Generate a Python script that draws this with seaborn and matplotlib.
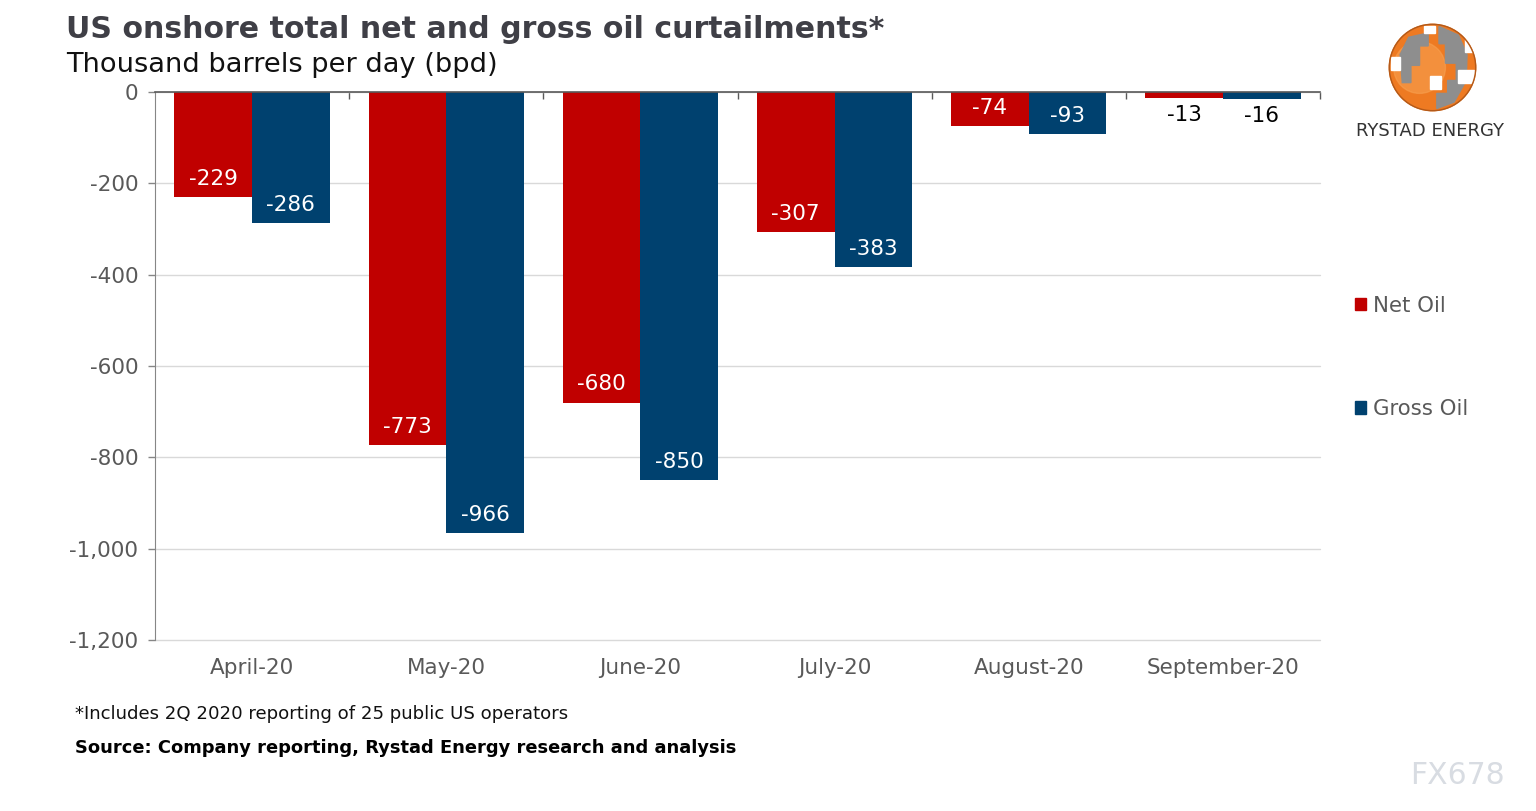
import matplotlib
matplotlib.use("Agg")
import matplotlib.pyplot as plt
import matplotlib.patches as mpatches
import matplotlib.ticker as mticker
import seaborn as sns
import pandas as pd
import numpy as np

# chart data
months = ["April-20", "May-20", "June-20", "July-20", "August-20", "September-20"]
net_oil = [-229, -773, -680, -307, -74, -13]
gross_oil = [-286, -966, -850, -383, -93, -16]
series_names = ["Net Oil", "Gross Oil"]
series_colors = ["#C00000", "#00416F"]

df = pd.DataFrame({
    "month": months * 2,
    "series": [series_names[0]] * len(months) + [series_names[1]] * len(months),
    "value": net_oil + gross_oil,
})

sns.set_style("white")
plt.rcParams["font.family"] = ["DejaVu Sans"]

fig = plt.figure(figsize=(15.36, 8.11), dpi=100)
ax = fig.add_axes([155 / 1536, 1 - 640 / 811, (1320 - 155) / 1536, (640 - 92) / 811])

sns.barplot(data=df, x="month", y="value", hue="series", order=months,
            hue_order=series_names, palette=series_colors, width=0.8,
            saturation=1, errorbar=None, ax=ax, legend=False, linewidth=0)

ax.set_ylim(-1200, 0)
ax.set_xlim(-0.5, len(months) - 0.5)
ax.set_yticks(np.arange(-1200, 1, 200))
ax.yaxis.set_major_formatter(mticker.FuncFormatter(lambda v, p: f"{v:,.0f}"))
ax.grid(axis="y", color="#D9D9D9", linewidth=1)
for gl in ax.get_ygridlines():
    gl.set_clip_on(False)
ax.set_axisbelow(True)
ax.set_xlabel("")
ax.set_ylabel("")

for side in ["right", "bottom"]:
    ax.spines[side].set_visible(False)
ax.spines["left"].set_color("#868686")
ax.spines["top"].set_color("#595959")
ax.spines["top"].set_linewidth(1.2)

ax.tick_params(axis="y", left=True, length=5, width=1, color="#868686",
               labelsize=15.5, labelcolor="#595959", pad=7)
ax.set_xticks(range(len(months)))
ax.set_xticklabels(months)
ax.tick_params(axis="x", which="major", bottom=False, top=False, length=0,
               labelsize=15.5, labelcolor="#595959", pad=13)
ax.set_xticks(np.arange(0.5, len(months)), minor=True)
ax.tick_params(axis="x", which="minor", bottom=False, top=True, direction="in",
               length=5, width=1, color="#595959")

# data labels
for cont in ax.containers:
    for bar in cont:
        val = bar.get_height()
        x = bar.get_x() + bar.get_width() / 2
        if abs(val) > 50:
            ax.annotate(f"{val:,.0f}", (x, val), xytext=(0, 13), textcoords="offset points",
                        ha="center", va="center", color="white", fontsize=15.5)
        else:
            ax.annotate(f"{val:,.0f}", (x, val), xytext=(0, -12), textcoords="offset points",
                        ha="center", va="center", color="black", fontsize=15.5)

# legend
handles = [mpatches.Patch(color=c, label=n) for c, n in zip(series_colors, series_names)]
fig.legend(handles=handles, loc="upper left", bbox_to_anchor=(1346 / 1536, 1 - 287 / 811),
           frameon=False, fontsize=15.3, labelcolor="#595959", handlelength=0.55,
           handleheight=0.55, handletextpad=0.3, labelspacing=3.93, borderaxespad=0)

# titles and notes
fig.text(66 / 1536, 1 - 30 / 811, "US onshore total net and gross oil curtailments*",
         fontsize=21.6, fontweight="bold", color="#3F3F46", va="center")
fig.text(66 / 1536, 1 - 65 / 811, "Thousand barrels per day (bpd)",
         fontsize=19.6, color="#111111", va="center")
fig.text(75 / 1536, 1 - 714 / 811, "*Includes 2Q 2020 reporting of 25 public US operators",
         fontsize=13.1, color="#111111", va="center")
fig.text(75 / 1536, 1 - 748 / 811, "Source: Company reporting, Rystad Energy research and analysis",
         fontsize=12.85, fontweight="bold", color="black", va="center")
fig.text(1505 / 1536, 1 - 775 / 811, "FX678", fontsize=21.5, color="#D8DCE2",
         ha="right", va="center")

# logo
lax = fig.add_axes([1385 / 1536, 1 - 115 / 811, 95 / 1536, 95 / 811])
lax.set_xlim(-1.1, 1.1)
lax.set_ylim(-1.1, 1.1)
lax.set_aspect("equal")
lax.axis("off")
globe = mpatches.Circle((0, 0), 1, color="#EE7A22")
lax.add_patch(globe)
inner = mpatches.Circle((-0.3, 0.0), 0.6, color="#F7A050", alpha=0.6)
inner.set_clip_path(globe)
lax.add_patch(inner)
grays = [
    [(-0.55, 0.7), (-0.1, 0.8), (-0.1, 0.5), (-0.3, 0.5), (-0.3, 0.05), (-0.5, 0.05),
     (-0.5, -0.35), (-0.7, -0.35), (-0.75, 0.3)],
    [(0.15, 0.95), (0.6, 0.75), (0.8, 0.3), (0.78, -0.3), (0.5, -0.8), (0.1, -0.95),
     (0.1, -0.6), (0.35, -0.6), (0.35, -0.3), (0.55, -0.3), (0.55, 0.1), (0.3, 0.1),
     (0.3, 0.55), (0.15, 0.55)],
]
for pts in grays:
    p = mpatches.Polygon(pts, closed=True, color="#8E8E8E")
    p.set_clip_path(globe)
    lax.add_patch(p)
for pts in [[(-0.05, -0.2), (0.2, -0.2), (0.2, -0.5), (-0.05, -0.5)],
            [(0.75, 0.65), (1.0, 0.65), (1.0, 0.35), (0.75, 0.35)],
            [(-0.95, 0.25), (-0.75, 0.25), (-0.75, -0.05), (-0.95, -0.05)],
            [(0.6, -0.05), (0.95, -0.05), (0.95, -0.35), (0.6, -0.35)],
            [(-0.2, 0.95), (0.05, 0.95), (0.05, 0.8), (-0.2, 0.8)]]:
    p = mpatches.Polygon(pts, closed=True, color="white")
    p.set_clip_path(globe)
    lax.add_patch(p)
lax.add_patch(mpatches.Circle((0, 0), 1, fill=False, edgecolor="#B35A1A", linewidth=1))
fig.text(1430 / 1536, 1 - 131 / 811, "RYSTAD ENERGY", fontsize=13, color="#333333",
         ha="center", va="center")

fig.savefig("out.png", dpi=100)
